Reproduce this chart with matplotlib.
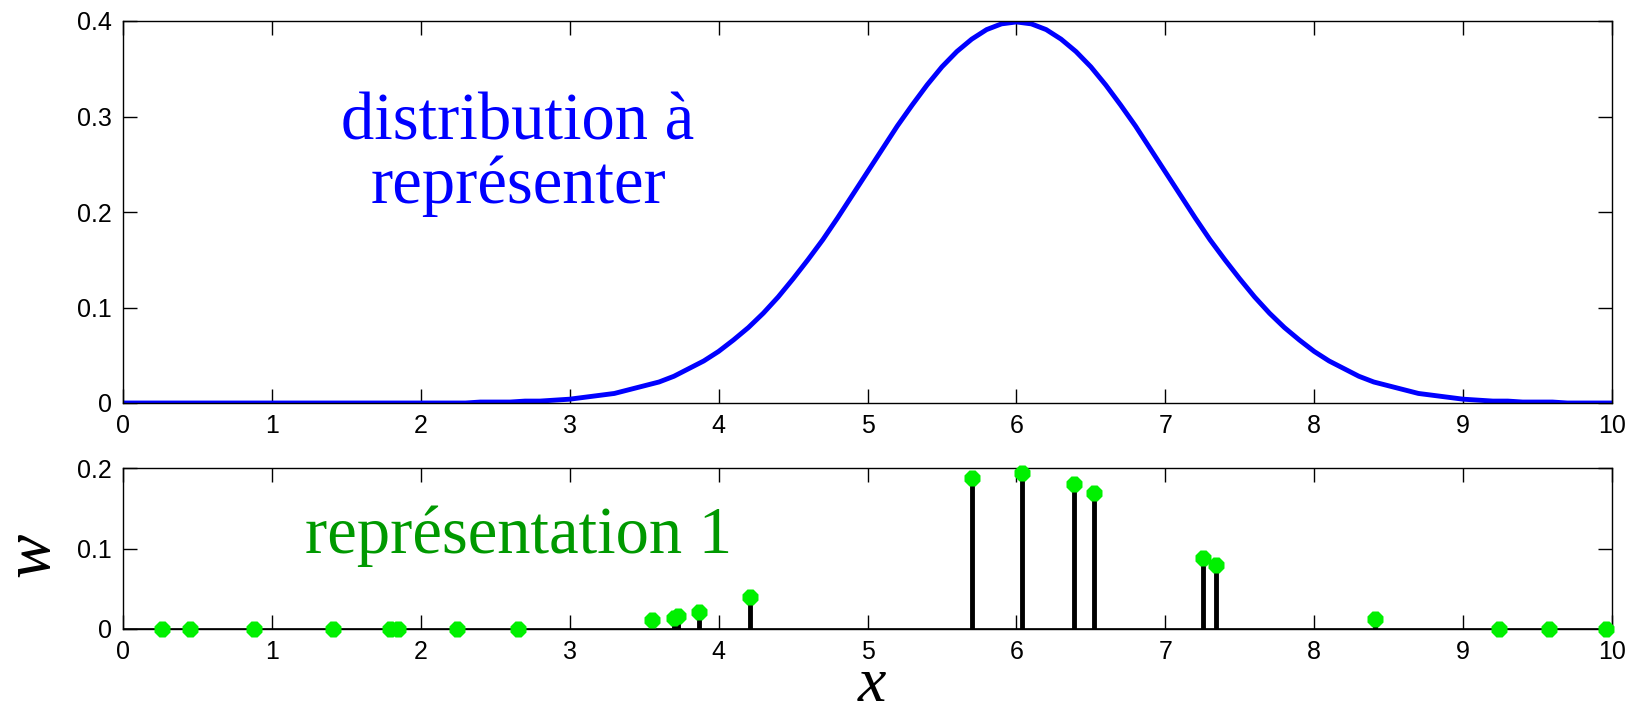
import numpy as np
import matplotlib.pyplot as plt

# density curve, sampled every 0.1 on [0, 10]
curve_x = [round(0.1 * i, 1) for i in range(101)]
curve_y = [0.000] * 24 + [
    0.001, 0.001, 0.001, 0.002, 0.002, 0.003, 0.004, 0.006, 0.008, 0.010,
    0.014, 0.018, 0.022, 0.028, 0.036, 0.044, 0.054, 0.066, 0.079, 0.094,
    0.111, 0.130, 0.150, 0.171, 0.194, 0.218, 0.242, 0.266, 0.290, 0.312,
    0.333, 0.352, 0.368, 0.381, 0.391, 0.397, 0.399,
    0.397, 0.391, 0.381, 0.368, 0.352, 0.333, 0.312, 0.290, 0.266, 0.242,
    0.218, 0.194, 0.171, 0.150, 0.130, 0.111, 0.094, 0.079, 0.066, 0.054,
    0.044, 0.036, 0.028, 0.022, 0.018, 0.014, 0.010, 0.008, 0.006, 0.004,
    0.003, 0.002, 0.002, 0.001, 0.001, 0.001, 0.000, 0.000, 0.000, 0.000]

# weighted samples
sample_x = [0.26, 0.45, 0.88, 1.41, 1.79, 1.85, 2.24, 2.65, 3.55, 3.70, 3.73,
            3.87, 4.21, 5.70, 6.04, 6.39, 6.52, 7.25, 7.34, 8.41, 9.24, 9.58, 9.96]
sample_w = [0.0, 0.0, 0.0, 0.0, 0.0, 0.0, 0.0, 0.0, 0.011, 0.014, 0.016,
            0.021, 0.040, 0.187, 0.194, 0.180, 0.169, 0.088, 0.079, 0.012,
            0.0, 0.0, 0.0]

x_ticks = list(range(11))
top_yticks = [0, 0.1, 0.2, 0.3, 0.4]
top_ylabels = ['0', '0.1', '0.2', '0.3', '0.4']
bot_yticks = [0, 0.1, 0.2]
bot_ylabels = ['0', '0.1', '0.2']

W, H = 1638, 716
fig = plt.figure(figsize=(W / 100, H / 100), dpi=100)

serif = 'Liberation Serif'


def style(ax):
    ax.tick_params(direction='in', length=10, width=1, top=True, right=True,
                   pad=8)
    for lbl in ax.get_xticklabels() + ax.get_yticklabels():
        lbl.set_fontfamily('Liberation Sans')
        lbl.set_fontsize(18)
    for s in ax.spines.values():
        s.set_linewidth(1.0)


left, right = 123, 1612
ax1 = fig.add_axes([left / W, 1 - 403 / H, (right - left) / W, (403 - 21) / H])
ax1.plot(curve_x, curve_y, color='#0000ff', lw=3.5)
ax1.set_xlim(0, 10)
ax1.set_ylim(0, 0.4)
ax1.set_xticks(x_ticks)
ax1.set_yticks(top_yticks)
ax1.set_yticklabels(top_ylabels)
style(ax1)

# caption lines, placed by baseline in figure pixels
fig.text(518 / W, 1 - 139 / H, 'distribution à', color='#0000ff',
         family=serif, fontsize=48, ha='center', va='baseline')
fig.text(518 / W, 1 - 203 / H, 'représenter', color='#0000ff',
         family=serif, fontsize=48, ha='center', va='baseline')

ax2 = fig.add_axes([left / W, 1 - 629 / H, (right - left) / W, (629 - 468) / H])
ax2.vlines(sample_x, 0, sample_w, color='black', lw=3.5)
ax2.axhline(0, color='black', lw=1.2)
ax2.plot(sample_x, sample_w, linestyle='none', marker='8', markersize=12,
         color='#00f000', markeredgecolor='none', clip_on=False, zorder=3)
ax2.set_xlim(0, 10)
ax2.set_ylim(0, 0.2)
ax2.set_xticks(x_ticks)
ax2.set_yticks(bot_yticks)
ax2.set_yticklabels(bot_ylabels)
style(ax2)

fig.text(519 / W, 1 - 553 / H, 'représentation 1', color='#009900',
         family=serif, fontsize=48, ha='center', va='baseline')

fig.text(32 / W, 1 - 555 / H, 'w', family=serif, style='italic', fontsize=48,
         rotation=90, ha='center', va='center')
fig.text(872 / W, 1 - 715 / H, 'x', family=serif, style='italic', fontsize=46,
         ha='center', va='bottom')

fig.savefig('out.png', dpi=100)
